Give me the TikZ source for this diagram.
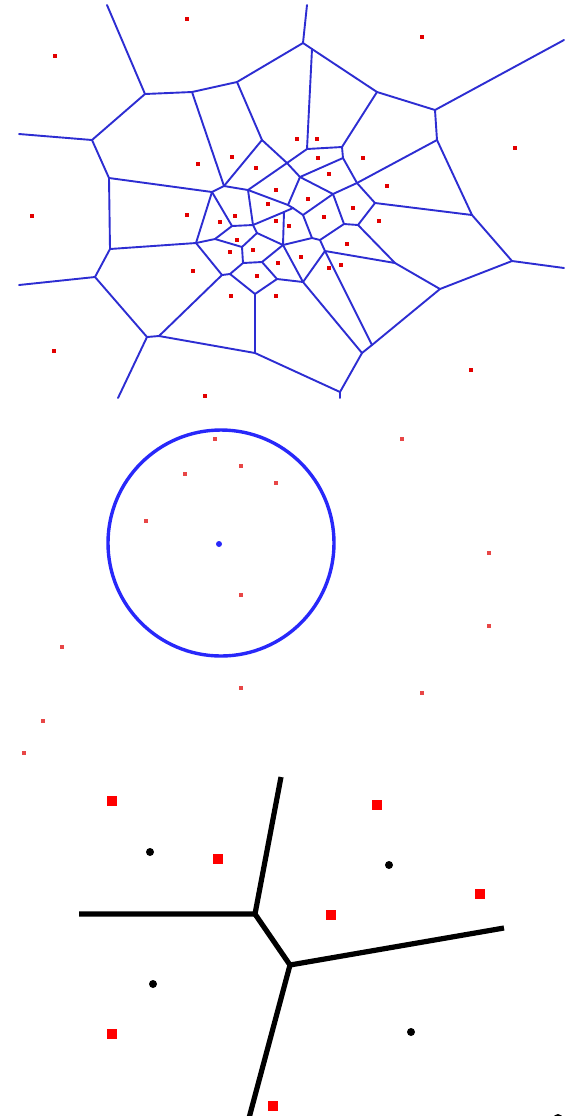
\documentclass[tikz,border=0pt]{standalone}
\definecolor{vblue}{RGB}{45,45,210}
\definecolor{cblue}{RGB}{40,40,250}
\definecolor{dotred}{RGB}{226,0,0}
\definecolor{pinkred}{RGB}{232,70,70}
\begin{document}
\begin{tikzpicture}[x=0.5pt,y=-0.5pt,
  vedge/.style={vblue,line width=0.95pt,line cap=round,line join=round},
  site/.style={rectangle,fill=dotred,draw=none,minimum width=2.4pt,minimum height=2.1pt,inner sep=0pt},
  psite/.style={rectangle,fill=pinkred,draw=none,minimum size=2.2pt,inner sep=0pt},
  ring/.style={circle,draw=cblue,line width=1.7pt,minimum size=113pt,inner sep=0pt},
  cdot/.style={circle,fill=cblue,draw=none,minimum size=3pt,inner sep=0pt},
  bedge/.style={black,line width=2.6pt,line join=round},
  bdot/.style={circle,fill=black,draw=none,minimum size=4pt,inner sep=0pt},
  bsq/.style={rectangle,fill=red,draw=none,minimum size=5.3pt,inner sep=0pt}]
\useasboundingbox (0,0) rectangle (570,1116);
\fill[white] (0,0) rectangle (570,1116);
% ---------------- top panel: Voronoi diagram ----------------
\foreach \n/\x/\y in {T1/107/5,T2/307/5,L1/19/134,L2/19/285,R1/564/40,R2/564/268,B1/118/398,B2/340/398,
  A/145/94,B/192/92,C/237/82,D/303/43,M/312/49,N/377/92,O/435/110,P/437/140,
  E/92/140,F/109/178,G/110/249,Z/95/277,AA/147/337,AB/159/336,AC/255/353,AD/255/294,AE/277/279,
  BM/340/392,BK/362/353,BJ/372/345,BH/440/289,BI/512/261,BD/472/215,BF/395/263,BE/358/225,BC/375/203,Q/357/183,
  R/342/147,S/343/158,L/307/149,J/262/140,K/287/163,I/224/186,H/212/192,W/248/190,U/300/177,V/333/194,
  WW/288/205,WV/293/208,VQ/284/212,BB/303/215,BN/312/238,BN2/320/240,BA/344/224,BG/325/251,BL/303/282,
  X2/283/245,X/196/243,X3/215/239,XA/232/226,XB/253/225,XE/257/233,XF/242/247,XG/243/263,XH/262/262,
  Y/222/275,Y2/230/274}
  \coordinate (\n) at (\x,\y);
\foreach \a/\b in {T1/A,A/B,B/C,C/D,D/T2,D/M,M/N,N/O,O/R1,O/P,P/Q,P/BD,
  A/E,E/L1,E/F,F/G,F/H,G/Z,G/X,Z/L2,Z/AA,AA/B1,AA/AB,AB/Y,AB/AC,AC/AD,AC/BM,
  AD/Y2,AD/AE,AE/BL,AE/XH,BM/B2,BM/BK,BK/BJ,BK/BL,BJ/BH,BJ/BG,BH/BF,BH/BI,BI/BD,BI/R2,
  BD/BC,BC/Q,BC/BE,BE/BA,BE/BF,BF/BG,BG/BN2,BG/BL,BL/X2,BN2/BN,BN2/BA,BA/V,BN/BB,BN/X2,
  BB/V,BB/WV,WV/WW,WV/VQ,VQ/XB,VQ/X2,WW/W,WW/U,V/U,V/Q,Q/S,S/R,S/U,R/L,R/N,L/M,L/K,
  K/J,K/U,K/W,J/C,J/I,I/B,I/H,I/W,W/XB,H/X,H/XA,X/X3,X/Y,X3/XA,X3/XF,XA/XB,XB/XE,
  XE/XF,XE/X2,XF/XG,XG/Y2,XG/XH,XH/X2,Y/Y2}
  \draw[vedge] (\a) -- (\b);
\foreach \n/\x/\y in {1/187/19,2/422/37,3/55/56,4/297/139,5/317/139,6/515/148,7/198/164,8/232/157,
  9/256/168,10/318/158,11/363/158,12/329/174,13/387/186,14/276/190,15/308/199,16/187/215,17/32/216,
  18/220/222,19/235/216,20/268/204,21/289/226,22/276/221,23/324/217,24/353/208,25/379/221,26/237/240,
  27/347/244,28/230/252,29/253/250,30/301/257,31/278/263,32/193/271,33/329/268,34/341/265,35/257/276,
  36/231/296,37/276/296,38/54/351,39/471/370,40/205/396}
  \node[site] (s\n) at (\x,\y) {};
% ---------------- middle panel: circle query ----------------
\node[ring] (disc) at (221,543) {};
\node[cdot] (ctr) at (219,544) {};
\foreach \n/\x/\y in {1/215/439,2/402/439,3/185/474,4/241/466,5/276/483,6/146/521,7/489/553,
  8/241/595,9/489/626,10/62/647,11/241/688,12/422/693,13/43/721,14/24/753}
  \node[psite] (p\n) at (\x,\y) {};
% ---------------- bottom panel: simple Voronoi ----------------
\coordinate (v1) at (255,914);
\coordinate (v2) at (290,965);
\coordinate (eL) at (79,914);
\coordinate (eU) at (281,777);
\coordinate (eR) at (504,928);
\coordinate (eD) at (249,1118);
\draw[bedge] (eL) -- (v1) -- (eU);
\draw[bedge] (v1) -- (v2) -- (eR);
\draw[bedge] (v2) -- (eD);
\foreach \n/\x/\y in {1/150/852,2/389/865,3/153/984,4/411/1032}
  \node[bdot] (k\n) at (\x,\y) {};
\node[bdot,minimum size=5pt] (k5) at (558,1119) {};
\foreach \n/\x/\y in {1/112/801,2/218/859,3/377/805,4/331/915,5/480/894,6/112/1034,7/273/1106}
  \node[bsq] (q\n) at (\x,\y) {};
\end{tikzpicture}
\end{document}
